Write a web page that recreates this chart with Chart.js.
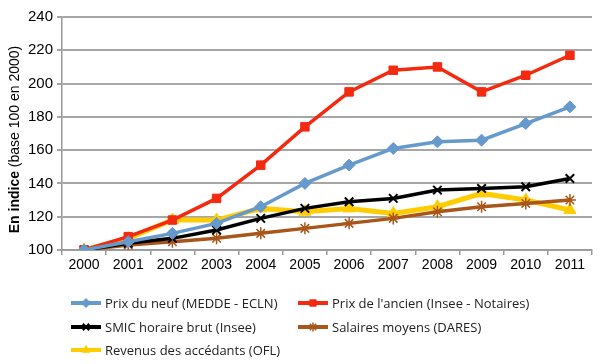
<!DOCTYPE html>
<html><head><meta charset="utf-8">
<script src="https://cdn.jsdelivr.net/npm/chart.js@4"></script>
<style>
html,body{margin:0;padding:0;background:#fff;}
#wrap{position:relative;width:600px;height:364px;}
#legend{position:absolute;left:0;top:0;width:600px;height:364px;pointer-events:none;font-family:"Open Sans",sans-serif;font-size:13px;color:#222;}
.item{position:absolute;display:flex;align-items:center;white-space:nowrap;}
.item canvas{margin-right:3px;}
</style></head>
<body>
<div id="wrap"><canvas id="c" width="600" height="364"></canvas><div id="legend"></div></div>
<script>
const years = ["2000","2001","2002","2003","2004","2005","2006","2007","2008","2009","2010","2011"];
const yTicks = [100,120,140,160,180,200,220,240];
const prixNeuf = [100,105,110,116,126,140,151,161,165,166,176,186];
const prixAncien = [100,108,118,131,151,174,195,208,210,195,205,217];
const smic = [100,104,107,112,119,125,129,131,136,137,138,143];
const salaires = [100,103,105,107,110,113,116,119,123,126,128,130];
const revenus = [100,107,118,118,125,123,125,122,126,134,130,124];
const seriesNames = ["Prix du neuf (MEDDE - ECLN)","Prix de l'ancien (Insee - Notaires)","SMIC horaire brut (Insee)","Salaires moyens (DARES)","Revenus des accédants (OFL)"];

const styles = [
  {color:"#6699cc", point:"rectRot", r:6, bw:3.5, pbw:1},
  {color:"#f42a10", point:"rect", r:6, bw:3.5, pbw:1},
  {color:"#000000", point:"crossRot", r:6, bw:3.5, pbw:2},
  {color:"#a8561a", point:"star", r:6, bw:3.5, pbw:1.5},
  {color:"#ffcc00", point:"triangle", r:7, bw:5, pbw:1}
];
const dataArr = [prixNeuf, prixAncien, smic, salaires, revenus];

const datasets = dataArr.map((d,i)=>({
  label: seriesNames[i], data: d,
  borderColor: styles[i].color, backgroundColor: styles[i].color,
  borderWidth: styles[i].bw, pointStyle: styles[i].point,
  pointRadius: styles[i].r, pointBorderWidth: styles[i].pbw,
  pointBackgroundColor: styles[i].color, pointBorderColor: styles[i].color,
  tension: 0, fill:false
}));

const yTitle = {
  id:'yTitle',
  afterDraw(chart){
    const ctx = chart.ctx, a = chart.chartArea;
    ctx.save();
    ctx.translate(15,(a.top+a.bottom)/2+6);
    ctx.rotate(-Math.PI/2);
    ctx.textBaseline='middle';
    const b = 'bold 14px "Liberation Sans", Arial, sans-serif';
    const n = '14px "Liberation Sans", Arial, sans-serif';
    ctx.font=b; const w1 = ctx.measureText('En indice ').width;
    ctx.font=n; const w2 = ctx.measureText('(base 100 en 2000)').width;
    let x = -(w1+w2)/2;
    ctx.fillStyle='#000';
    ctx.font=b; ctx.textAlign='left'; ctx.fillText('En indice ',x,0);
    ctx.font=n; ctx.fillText('(base 100 en 2000)',x+w1,0);
    ctx.restore();
  }
};

new Chart(document.getElementById('c'),{
  type:'line',
  data:{labels:years, datasets},
  options:{
    responsive:false, animation:false,
    layout:{padding:{left:0,right:8,top:17,bottom:0}},
    plugins:{legend:{display:false}, tooltip:{enabled:false}},
    scales:{
      x:{
        offset:true,
        grid:{offset:true, drawOnChartArea:false, drawTicks:true, tickLength:5, color:'#999', lineWidth:1.5},
        border:{display:true, color:'#999', width:1.5},
        ticks:{color:'#000', font:{family:'"Liberation Sans", Arial, sans-serif', size:14}, padding:2, maxRotation:0, autoSkip:false},
        afterFit(s){ s.height = 114; }
      },
      y:{
        min:100, max:240,
        afterBuildTicks(s){ s.ticks = yTicks.map(v=>({value:v})); },
        grid:{color:'#a6a6a6', lineWidth:2, tickLength:5, drawTicks:true},
        border:{display:true, color:'#999', width:1.5, dash:[]},
        ticks:{color:'#000', font:{family:'"Liberation Sans", Arial, sans-serif', size:15}, padding:4},
        afterFit(s){ s.width = 62; }
      }
    }
  },
  plugins:[yTitle]
});

// legend
const legend = document.getElementById('legend');
const pos = [[70,303],[297,303],[70,327],[297,327],[70,350]];
seriesNames.forEach((name,i)=>{
  const div = document.createElement('div'); div.className='item';
  div.style.left = pos[i][0]+'px'; div.style.top = (pos[i][1]-10)+'px'; div.style.height='20px';
  const cv = document.createElement('canvas'); cv.width=32; cv.height=20;
  const ctx = cv.getContext('2d');
  ctx.strokeStyle = styles[i].color; ctx.lineWidth = 4;
  ctx.beginPath(); ctx.moveTo(1,10); ctx.lineTo(31,10); ctx.stroke();
  ctx.fillStyle = styles[i].color; ctx.lineWidth = styles[i].pbw;
  Chart.helpers.drawPoint(ctx,{pointStyle:styles[i].point, radius:4.5, borderWidth:styles[i].pbw},16,10);
  div.appendChild(cv);
  const sp = document.createElement('span'); sp.textContent = name;
  div.appendChild(sp);
  legend.appendChild(div);
});
</script>
</body></html>
